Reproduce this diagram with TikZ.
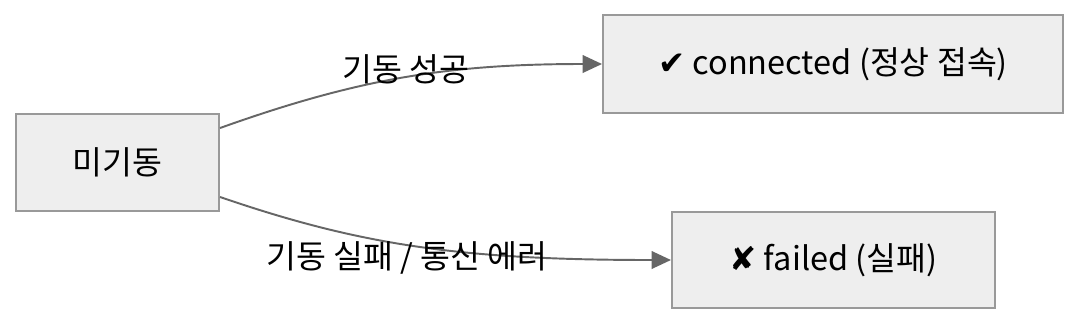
\documentclass[tikz,border=0pt]{standalone}
\usepackage{fontspec}
\setmainfont{Noto Sans CJK KR}
\newfontfamily\symfont{DejaVu Sans}
\usepackage{tikz}
\usetikzlibrary{arrows.meta,positioning}
\definecolor{nodefill}{HTML}{EEEEEE}
\definecolor{nodeline}{HTML}{999999}
\definecolor{edgegray}{HTML}{666666}
\tikzset{
  statebox/.style={draw=nodeline, fill=nodefill, line width=1.2pt,
                   align=center, font=\fontsize{18.5}{22}\selectfont,
                   inner sep=0pt},
  elabel/.style  ={font=\fontsize{18.5}{22}\selectfont, inner sep=1pt},
  earr/.style    ={-{Triangle[length=11pt, width=10pt]}, line width=1.1pt,
                   edgegray},
}
\begin{document}
\begin{tikzpicture}[x=0.02cm, y=-0.02cm]

\useasboundingbox (0,0) rectangle (1080,326);

\node[statebox, minimum width=4.06cm, minimum height=1.94cm] (idle)
  at (117.5,162.5) {미기동};
\node[statebox, minimum width=9.2cm, minimum height=1.96cm] (conn)
  at (833,64) {{\symfont ✔} connected (정상 접속)};
\node[statebox, minimum width=6.46cm, minimum height=1.92cm] (fail)
  at (833.5,260) {{\symfont ✘} failed (실패)};

\draw[earr] ([yshift=0.69cm]idle.east) .. controls (360,78) and (450,64)
  .. (conn.west);
\draw[earr] ([yshift=-0.69cm]idle.east) .. controls (360,245) and (460,260)
  .. (fail.west);

\node[elabel] (lok)  at (406,69)  {기동 성공};
\node[elabel] (lerr) at (407,258) {기동 실패 / 통신 에러};

\end{tikzpicture}
\end{document}
